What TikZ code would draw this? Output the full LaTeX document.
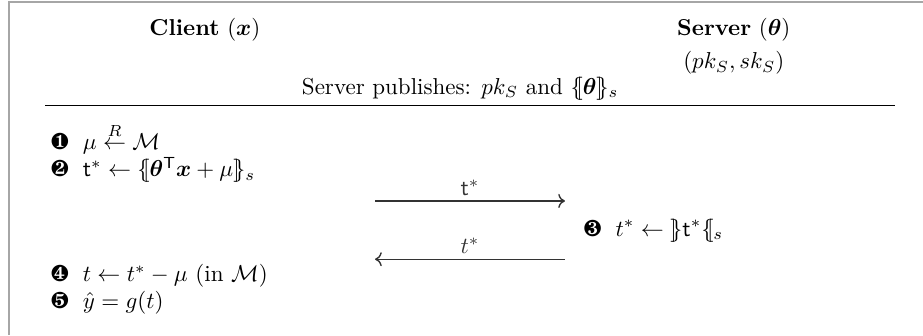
\documentclass[tikz,border=0pt]{standalone}
\usepackage{amsmath}
\usepackage{amssymb}
\usepackage{bm}
\usepackage{pifont}
\usepackage{tikz}
\usetikzlibrary{arrows.meta,calc}

\tikzset{
  stepline/.style={anchor=base west, inner sep=0pt},
  msg/.style={->, semithick, black!80},
}
\newcommand{\lenc}{\lbrace\mkern-4.5mu[}
\newcommand{\renc}{]\mkern-4.5mu\rbrace}
\newcommand{\encs}[1]{\lenc #1 \renc_s}
\newcommand{\stepno}[1]{\ding{#1}\hspace{0.6em}}

\begin{document}
\begin{tikzpicture}[font=\normalsize]
  % canvas: 923 x 335 px, 1 px = 0.01528 cm
  \useasboundingbox (0,0) rectangle (14.1,5.12);

  % --- frame (top and left border) ---
  \draw[gray!70, line width=0.6pt] (0.14,0) -- (0.14,5.09) -- (14.1,5.09);

  % --- parties ---
  \node (client) at (3.13, 4.66) {\textbf{Client} ($\bm{x}$)};
  \node (server) at (11.21, 4.66) {\textbf{Server} ($\bm{\theta}$)};
  \node (keys)   at (11.21, 4.16) {$(pk_S, sk_S)$};
  \node (pub)    at (7.03, 3.77) {Server publishes: $pk_S$ and $\encs{\bm{\theta}}$};

  % --- separating rule ---
  \coordinate (ruleL) at (0.69, 3.51);
  \coordinate (ruleR) at (13.67, 3.51);
  \draw[line width=0.6pt] (ruleL) -- (ruleR);

  % --- client steps ---
  \node[stepline] (s1) at (0.77, 2.84) {\stepno{182}$\mu \overset{R}{\leftarrow} \mathcal{M}$};
  \node[stepline] (s2) at (0.77, 2.42)
    {\stepno{183}$\mathsf{t}^* \leftarrow \encs{\bm{\theta}^{\mathsf{T}}\bm{x} + \mu}$};
  \node[stepline] (s4) at (0.77, 0.82) {\stepno{185}$t \leftarrow t^* - \mu$ (in $\mathcal{M}$)};
  \node[stepline] (s5) at (0.77, 0.41) {\stepno{186}$\hat{y} = g(t)$};

  % --- server step ---
  \node[stepline] (s3) at (8.91, 1.51)
    {\stepno{184}$t^* \leftarrow\; \renc\mathsf{t}^*\lenc_s$};

  % --- messages ---
  \coordinate (upL) at (5.73, 2.05);
  \coordinate (upR) at (8.63, 2.05);
  \coordinate (dnL) at (5.73, 1.16);
  \coordinate (dnR) at (8.63, 1.16);
  \draw[msg] (upL) -- node[above, inner sep=2pt] (m1) {$\mathsf{t}^*$} (upR);
  \draw[msg] (dnR) -- node[above, inner sep=2pt] (m2) {$t^*$} (dnL);

\end{tikzpicture}
\end{document}
